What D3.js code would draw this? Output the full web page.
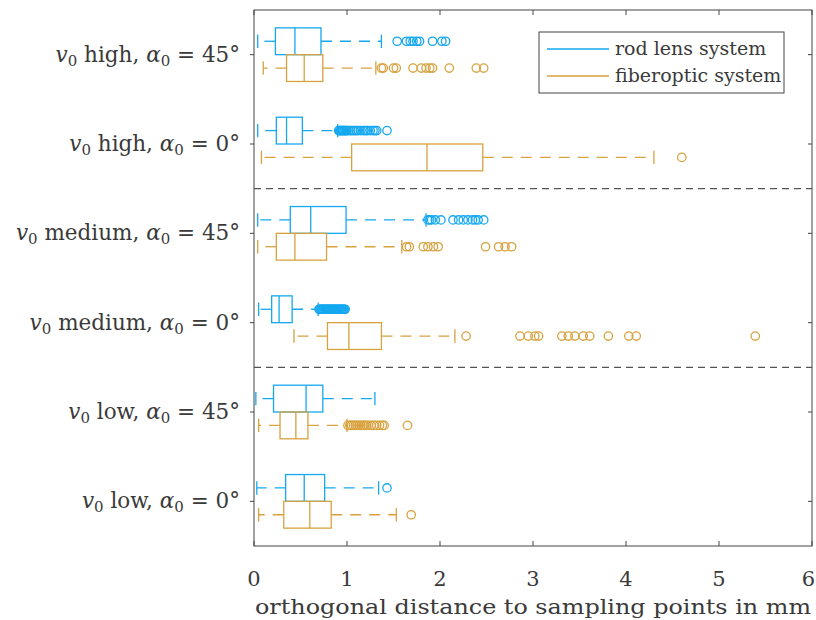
<!DOCTYPE html>
<html>
<head>
<meta charset="UTF-8">
<title>orthogonal distance boxplots</title>
<script src="https://d3js.org/d3.v7.min.js"></script>
<style>
  body { margin: 0; background: #fff; }
  text { font-family: "DejaVu Serif", serif; fill: #3a3a3a; }
</style>
</head>
<body>
<svg id="viz" width="816" height="620"></svg>
<script>
// categories top to bottom
var categories = [
  ["high", "45"],
  ["high", "0"],
  ["medium", "45"],
  ["medium", "0"],
  ["low", "45"],
  ["low", "0"]
];
var seriesNames = ["rod lens system", "fiberoptic system"];
var xTicks = [0, 1, 2, 3, 4, 5, 6];

// box stats per category: [lower whisker, q1, median, q3, upper whisker]
var rodStats = [
  [0.04, 0.23, 0.44, 0.72, 1.37],
  [0.04, 0.24, 0.35, 0.52, 0.90],
  [0.04, 0.39, 0.61, 0.99, 1.85],
  [0.05, 0.19, 0.27, 0.41, 0.69],
  [0.02, 0.21, 0.56, 0.74, 1.30],
  [0.03, 0.34, 0.54, 0.76, 1.34]
];
var fiberStats = [
  [0.10, 0.35, 0.54, 0.74, 1.31],
  [0.08, 1.05, 1.86, 2.46, 4.30],
  [0.04, 0.24, 0.44, 0.78, 1.59],
  [0.43, 0.79, 1.02, 1.37, 2.16],
  [0.05, 0.28, 0.45, 0.58, 1.00],
  [0.05, 0.32, 0.60, 0.83, 1.53]
];
var rodOutliers = [
  [1.54, 1.64, 1.68, 1.71, 1.75, 1.78, 1.92, 2.02, 2.06],
  [0.91, 0.92, 0.93, 0.94, 0.95, 0.96, 0.97, 0.98, 0.99, 1.00, 1.02, 1.04, 1.06, 1.08, 1.10, 1.12, 1.15, 1.18, 1.20, 1.22, 1.25, 1.28, 1.30, 1.32, 1.43],
  [1.87, 1.89, 1.91, 1.95, 2.01, 2.14, 2.20, 2.25, 2.30, 2.35, 2.38, 2.41, 2.47],
  [0.70, 0.71, 0.72, 0.73, 0.74, 0.75, 0.76, 0.77, 0.78, 0.79, 0.80, 0.81, 0.82, 0.83, 0.84, 0.85, 0.86, 0.87, 0.88, 0.89, 0.90, 0.91, 0.92, 0.93, 0.94, 0.95, 0.96, 0.97, 0.98],
  [],
  [1.43]
];
var fiberOutliers = [
  [1.37, 1.39, 1.50, 1.53, 1.71, 1.80, 1.85, 1.89, 1.92, 2.10, 2.39, 2.47],
  [4.60],
  [1.64, 1.67, 1.82, 1.87, 1.93, 1.98, 2.49, 2.63, 2.70, 2.77],
  [2.28, 2.86, 2.95, 3.02, 3.06, 3.31, 3.38, 3.45, 3.54, 3.61, 3.81, 4.03, 4.11, 5.39],
  [1.01, 1.03, 1.05, 1.07, 1.09, 1.11, 1.13, 1.15, 1.17, 1.19, 1.21, 1.23, 1.26, 1.29, 1.32, 1.35, 1.38, 1.40, 1.65],
  [1.69]
];

var colors = ["#14a8f0", "#d7a23f"];

var svg = d3.select("#viz"),
    margin = {top: 10, right: 4, bottom: 74, left: 254},
    width = 812 - margin.left,
    height = 546 - margin.top;

var g = svg.append("g").attr("transform", "translate(" + margin.left + "," + margin.top + ")");

var x = d3.scaleLinear().domain([0, 6]).range([0, width]);
var y = d3.scaleLinear().domain([0.5, 6.5]).range([0, height]);

// separators between speed groups
[2.5, 4.5].forEach(function(p) {
  g.append("line")
    .attr("x1", 0).attr("x2", width)
    .attr("y1", y(p)).attr("y2", y(p))
    .attr("stroke", "#555").attr("stroke-width", 1.3)
    .attr("stroke-dasharray", "7,5");
});

function drawSeries(stats, outliers, color, offset) {
  var half = 0.15;
  stats.forEach(function(s, i) {
    var c = i + 1 + offset;
    var grp = g.append("g").attr("stroke", color).attr("fill", "none").attr("stroke-width", 1.3);
    // whiskers
    grp.append("line").attr("x1", x(s[1])).attr("x2", x(s[0]))
      .attr("y1", y(c)).attr("y2", y(c)).attr("stroke-dasharray", "11,8");
    grp.append("line").attr("x1", x(s[3])).attr("x2", x(s[4]))
      .attr("y1", y(c)).attr("y2", y(c)).attr("stroke-dasharray", "11,8");
    // caps
    [s[0], s[4]].forEach(function(v) {
      grp.append("line").attr("x1", x(v)).attr("x2", x(v))
        .attr("y1", y(c - half / 2)).attr("y2", y(c + half / 2));
    });
    // box
    grp.append("rect")
      .attr("x", x(s[1])).attr("width", x(s[3]) - x(s[1]))
      .attr("y", y(c - half)).attr("height", y(c + half) - y(c - half));
    grp.append("line").attr("x1", x(s[2])).attr("x2", x(s[2]))
      .attr("y1", y(c - half)).attr("y2", y(c + half));
    // outliers
    grp.selectAll("circle").data(outliers[i]).enter().append("circle")
      .attr("cx", function(d) { return x(d); })
      .attr("cy", y(c))
      .attr("r", 4.2);
  });
}

drawSeries(rodStats, rodOutliers, colors[0], -0.15);
drawSeries(fiberStats, fiberOutliers, colors[1], 0.15);

// frame
g.append("rect").attr("width", width).attr("height", height)
  .attr("fill", "none").attr("stroke", "#444").attr("stroke-width", 1);

// x ticks (inside, bottom and top)
xTicks.forEach(function(t) {
  g.append("line").attr("x1", x(t)).attr("x2", x(t)).attr("y1", height).attr("y2", height - 5)
    .attr("stroke", "#444");
  g.append("line").attr("x1", x(t)).attr("x2", x(t)).attr("y1", 0).attr("y2", 5)
    .attr("stroke", "#444");
  var lab = g.append("text").attr("x", x(t)).attr("y", height + 40)
    .attr("text-anchor", "middle").attr("font-size", 21).text(t);
  // keep the last label inside the page
  var w = lab.node().getComputedTextLength();
  if (x(t) + w / 2 > width + 3) lab.attr("x", width + 3 - w / 2);
});

g.append("text").attr("x", width / 2).attr("y", height + 68)
  .attr("text-anchor", "middle").attr("font-size", 21)
  .attr("textLength", 556).attr("lengthAdjust", "spacingAndGlyphs")
  .text("orthogonal distance to sampling points in mm");

// y ticks and labels
categories.forEach(function(cat, i) {
  var c = i + 1;
  g.append("line").attr("x1", -4).attr("x2", 0).attr("y1", y(c)).attr("y2", y(c)).attr("stroke", "#444");
  g.append("line").attr("x1", width).attr("x2", width - 4).attr("y1", y(c)).attr("y2", y(c)).attr("stroke", "#444");
  var t = g.append("text").attr("x", -14).attr("y", y(c) + 7)
    .attr("text-anchor", "end").attr("font-size", 21.5);
  t.append("tspan").attr("font-style", "italic").text("v");
  t.append("tspan").attr("font-size", 15).attr("dy", 4).text("0");
  t.append("tspan").attr("dy", -4).text(" " + cat[0] + ", ");
  t.append("tspan").attr("font-style", "italic").text("α");
  t.append("tspan").attr("font-size", 15).attr("dy", 4).text("0");
  t.append("tspan").attr("dy", -4).text(" = " + cat[1] + "°");
});

// legend
var lg = svg.append("g").attr("transform", "translate(539,32)");
lg.append("rect").attr("width", 245).attr("height", 61)
  .attr("fill", "#fff").attr("stroke", "#444").attr("stroke-width", 1);
seriesNames.forEach(function(name, i) {
  var ly = 17 + i * 27;
  lg.append("line").attr("x1", 8).attr("x2", 70).attr("y1", ly).attr("y2", ly)
    .attr("stroke", colors[i]).attr("stroke-width", 1.3);
  lg.append("text").attr("x", 76).attr("y", ly + 6).attr("font-size", 19).text(name);
});
</script>
</body>
</html>
